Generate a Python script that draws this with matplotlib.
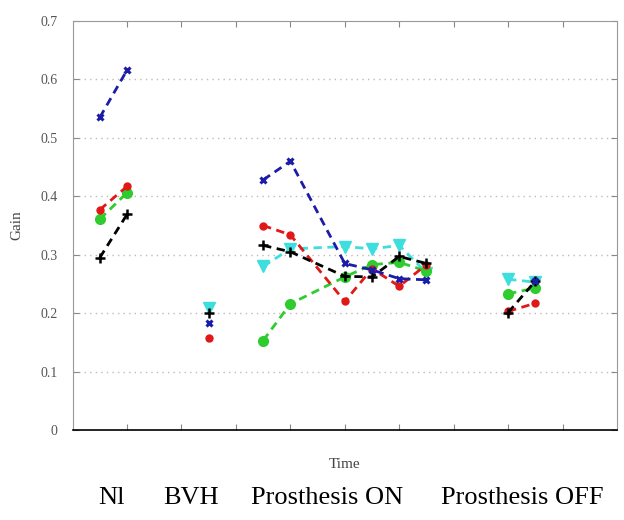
import numpy as np
import matplotlib
matplotlib.use("Agg")
import matplotlib.pyplot as plt
import matplotlib.transforms as mtransforms

nan = np.nan

# time positions, NaN breaks the dashed lines between groups
x_pos = [0.5, 1.0, nan, 2.5, nan, 3.5, 4.0, 5.0, 5.5, 6.0, 6.5, nan, 8.0, 8.5]

blue = [0.535, 0.616, nan, 0.183, nan, 0.428, 0.460, 0.285, 0.274, 0.259, 0.257, nan, nan, 0.255]
red = [0.377, 0.417, nan, 0.157, nan, 0.350, 0.334, 0.220, 0.276, 0.246, 0.283, nan, 0.203, 0.217]
green = [0.361, 0.406, nan, nan, nan, 0.153, 0.216, 0.262, 0.283, 0.287, 0.272, nan, 0.233, 0.243]
black = [0.295, 0.369, nan, 0.200, nan, 0.316, 0.305, 0.263, 0.262, 0.297, 0.285, nan, 0.201, 0.255]
cyan = [nan, nan, nan, 0.209, nan, 0.280, 0.310, 0.314, 0.310, 0.316, 0.269, nan, 0.258, 0.253]

categories = ["Nl", "BVH", "Prosthesis ON", "Prosthesis OFF"]
category_x = [0.72, 2.17, 4.68, 8.26]

plt.rcParams['font.family'] = ['Liberation Serif', 'DejaVu Serif']

fig = plt.figure(figsize=(6.24, 5.2), dpi=100)
ax = fig.add_axes([72.6 / 624, 90 / 520, (617 - 72.6) / 624, 409 / 520])

dash = (3, 2)
ax.plot(x_pos, cyan, '--', dashes=dash, color='#3fdede', lw=2, marker='v', ms=8, zorder=2)
ax.plot(x_pos, green, '--', dashes=dash, color='#2ecc2e', lw=2, marker='o', ms=7, zorder=3)
ax.plot(x_pos, red, '--', dashes=dash, color='#e01818', lw=2, marker='o', ms=5, zorder=4)
ax.plot(x_pos, black, '--', dashes=dash, color='black', lw=2, marker='+', ms=7, mew=1.8, zorder=5)
ax.plot(x_pos, blue, '--', dashes=dash, color='#1c1ca8', lw=2, marker='x', ms=5, mew=2.2, zorder=6)

ax.set_xlim(0, 10)
ax.set_ylim(0, 0.7)
ax.set_xticks(np.arange(1, 10))
ax.set_xticklabels([])
ax.set_yticks(np.arange(0, 0.71, 0.1))
ax.set_yticklabels(['0', '0.1', '0.2', '0.3', '0.4', '0.5', '0.6', '0.7'])
ax.tick_params(direction='in', length=4, colors='#888888', labelcolor='#555555',
               labelsize=10, top=True, right=True, pad=11)

for gy in np.arange(0.1, 0.65, 0.1):
    ax.axhline(gy, color='#bbbbbb', lw=1, ls=(0, (1, 3)), zorder=1)

for side in ['top', 'right', 'left']:
    ax.spines[side].set_color('#999999')
    ax.spines[side].set_linewidth(0.8)
ax.spines['bottom'].set_color('black')
ax.spines['bottom'].set_linewidth(1.2)

ax.set_ylabel('Gain', fontsize=11, color='#444444', labelpad=12)
ax.set_xlabel('Time', fontsize=11, color='#444444', labelpad=9)

trans = mtransforms.blended_transform_factory(ax.transData, fig.transFigure)
for label, cx in zip(categories, category_x):
    ax.text(cx, 22 / 520, label, transform=trans, ha='center', va='center',
            fontsize=19, color='black')

fig.savefig('out.png', dpi=100)
